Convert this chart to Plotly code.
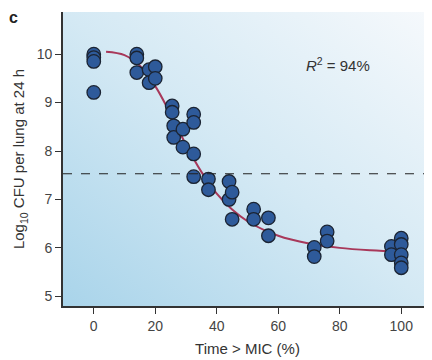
import base64
import plotly.graph_objects as go

# Observed data points (Time > MIC %, log10 CFU)
time_mic = [0, 0, 0, 0,
            14, 14, 14,
            18, 18,
            20, 20,
            25.5, 25.5,
            26, 26,
            29, 29,
            32.5, 32.5, 32.5, 32.5,
            37.3, 37.3,
            44, 44,
            45, 45,
            52, 52,
            56.8, 56.8,
            71.7, 71.7,
            75.9, 75.9,
            96.8, 96.8,
            100, 100, 100, 100, 100]
log_cfu = [10.0, 9.93, 9.85, 9.21,
           10.0, 9.92, 9.62,
           9.68, 9.41,
           9.74, 9.50,
           8.93, 8.80,
           8.52, 8.28,
           8.45, 8.08,
           8.76, 8.59, 7.94, 7.47,
           7.42, 7.20,
           7.37, 7.00,
           7.15, 6.59,
           6.80, 6.59,
           6.62, 6.25,
           6.01, 5.82,
           6.33, 6.14,
           6.03, 5.86,
           6.20, 6.07, 5.86, 5.69, 5.59]

# Fitted curve
curve_x = [4, 10, 15, 20, 25, 30, 35, 40, 45, 50, 60, 70, 80, 90, 100]
curve_y = [10.05, 9.98, 9.76, 9.34, 8.76, 8.13, 7.57, 7.12, 6.79, 6.55, 6.25, 6.09, 6.00, 5.95, 5.92]

threshold = 7.53
x_ticks = [0, 20, 40, 60, 80, 100]
y_ticks = [5, 6, 7, 8, 9, 10]

svg = ('<svg xmlns="http://www.w3.org/2000/svg" width="400" height="300" preserveAspectRatio="none">'
       '<defs><linearGradient id="g" x1="0" y1="1" x2="1" y2="0">'
       '<stop offset="0" stop-color="#a9d4ea"/>'
       '<stop offset="0.5" stop-color="#d4e9f4"/>'
       '<stop offset="1" stop-color="#f6f9fc"/>'
       '</linearGradient></defs>'
       '<rect width="400" height="300" fill="url(#g)"/></svg>')
bg = "data:image/svg+xml;base64," + base64.b64encode(svg.encode()).decode()

FONT = "Liberation Sans, Arial, sans-serif"

fig = go.Figure()
fig.add_trace(go.Scatter(x=curve_x, y=curve_y, mode="lines",
                         line=dict(color="#a8385a", width=2, shape="spline"),
                         hoverinfo="skip", showlegend=False))
fig.add_trace(go.Scatter(x=time_mic, y=log_cfu, mode="markers",
                         marker=dict(size=13.5, color="#2e5a9a",
                                     line=dict(color="#1b2433", width=1.3)),
                         showlegend=False))

fig.add_shape(type="line", xref="paper", x0=0, x1=1, yref="y", y0=threshold, y1=threshold,
              line=dict(color="#222222", width=1.2, dash="dash"))

fig.add_layout_image(dict(source=bg, xref="paper", yref="paper", x=0, y=1,
                          sizex=1, sizey=1, sizing="stretch", layer="below",
                          xanchor="left", yanchor="top"))

fig.add_annotation(x=79.5, y=9.78, xref="x", yref="y", showarrow=False,
                   text="<i>R</i><sup>2</sup> = 94%",
                   font=dict(family=FONT, size=15, color="#333333"))
fig.add_annotation(x=-0.135, y=0.98, xref="paper", yref="paper", showarrow=False,
                   xanchor="center", yanchor="middle",
                   text="<b>c</b>", font=dict(family=FONT, size=16, color="#222222"))

axis_font = dict(family=FONT, size=14, color="#444444")
title_font = dict(family=FONT, size=15, color="#333333")
fig.update_layout(
    width=432, height=360,
    margin=dict(l=55, r=8, t=4, b=62),
    paper_bgcolor="white",
    plot_bgcolor="rgba(0,0,0,0)",
    font=dict(family=FONT, color="#333333"),
    xaxis=dict(range=[-10, 110], tickvals=x_ticks, ticks="outside", ticklen=6,
               tickcolor="#333333", tickwidth=1.3, showgrid=False, zeroline=False,
               showline=True, linecolor="#333333", linewidth=1.8,
               tickfont=axis_font,
               title=dict(text="Time > MIC (%)", font=title_font, standoff=11)),
    yaxis=dict(range=[4.8, 10.87], tickvals=y_ticks, ticks="outside", ticklen=6,
               tickcolor="#333333", tickwidth=1.3, showgrid=False, zeroline=False,
               showline=True, linecolor="#333333", linewidth=1.8,
               tickfont=axis_font,
               title=dict(text="Log<sub>10</sub> CFU per lung at 24 h",
                          font=title_font, standoff=8)),
)

fig.write_html("out.html")
